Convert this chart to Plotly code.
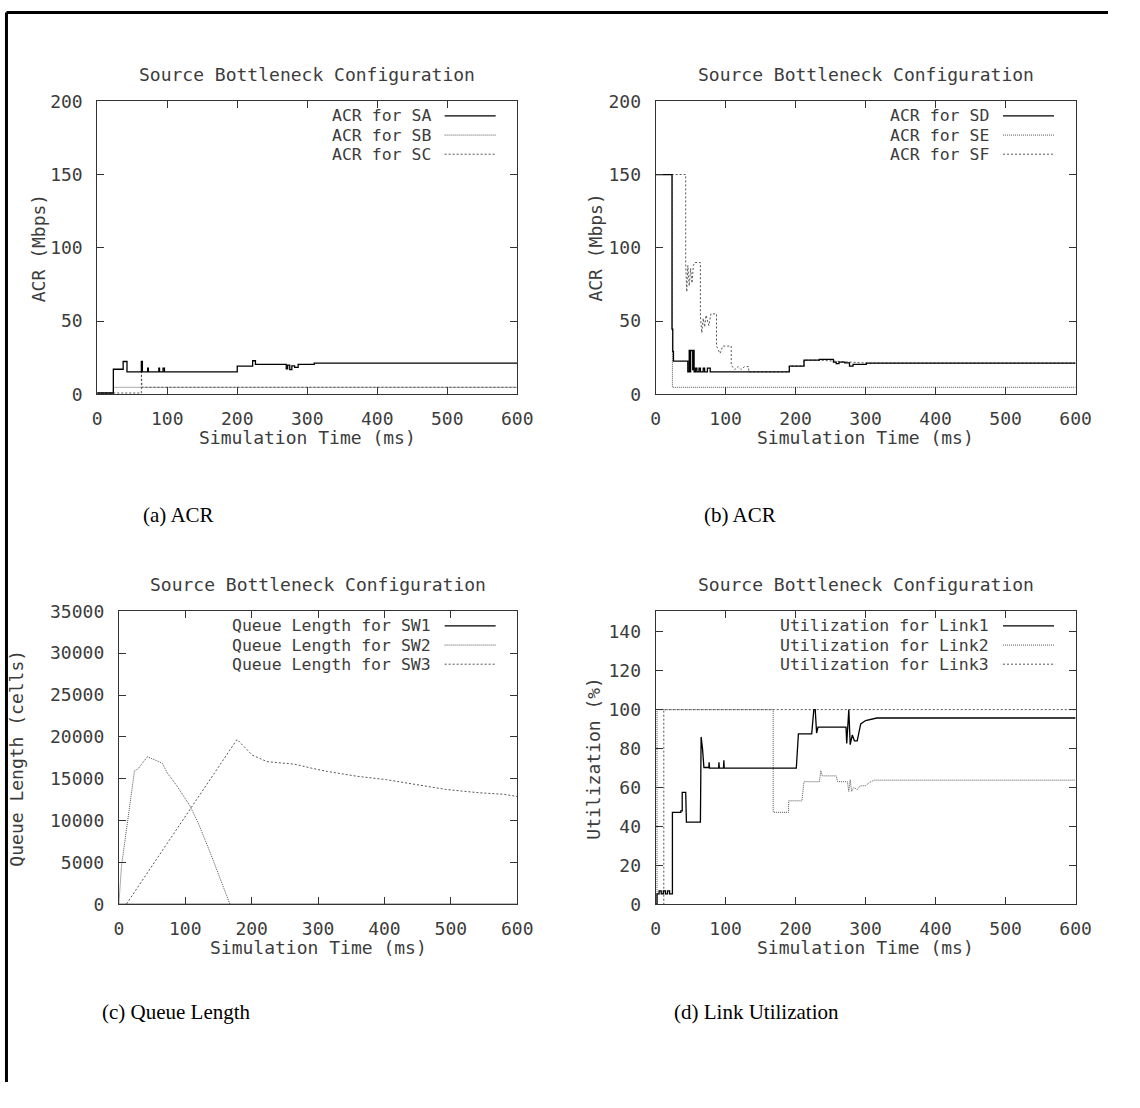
import plotly.graph_objects as go

# ---------------- data ----------------
# (a) ACR for sources SA, SB, SC  (time in ms, rate in Mbps)
sa_t = [0, 23, 37, 42.5, 63, 64.5, 72, 73, 88, 89, 94, 96, 200, 222, 226, 270, 272, 275, 278, 282, 287, 310, 600]
sa_v = [1, 17.2, 22.5, 15.4, 22.5, 15.4, 18, 15.4, 18, 15.4, 18, 15.4, 19.4, 23, 20.5, 17.5, 20, 17, 19.5, 18.5, 20.5, 21.4, 21.4]
sb_t = [0, 23, 600]
sb_v = [1, 4.9, 4.9]
sc_t = [0, 63, 63, 64, 600]
sc_v = [1, 1, 15.4, 4.9, 4.9]

# (b) ACR for sources SD, SE, SF
sd_t = [0, 23.4, 24.5, 25.5, 46, 48, 49, 50, 53, 54, 55, 57, 59, 62, 64, 68, 70, 74, 78,
        191, 212, 234, 254, 258, 262, 270, 277, 282, 301, 600]
sd_v = [150, 44.6, 29.4, 22.7, 15.4, 30, 15.4, 30, 17, 30, 15.4, 18, 15.4, 18, 15.4, 18, 15.4, 18, 15.4,
        19.4, 23.4, 23.9, 22, 21, 22, 21.6, 19.4, 20.5, 21.4, 21.4]
se_t = [0, 24, 600]
se_v = [150, 4.9, 4.9]
sf_t = [0, 43, 43, 44.5, 46, 48, 50, 52, 54, 56, 64, 64, 66, 68, 70, 72, 76, 79, 87, 87, 92, 96,
        108, 108, 113, 118, 122, 127, 133, 133, 191, 191, 212, 212, 234, 301, 600]
sf_v = [150, 150, 88, 70, 88, 74, 86, 76, 88, 90, 90, 53, 42, 52, 46, 54, 47, 55, 55, 33, 28, 33,
        33, 20, 17, 19, 17, 19, 19, 15.4, 15.4, 19.4, 19.4, 23.4, 23.4, 21.4, 21.4]

# (c) queue length per switch (cells)
sw1_t = [0, 600]
sw1_v = [0, 0]
sw2_t = [0, 4, 23.6, 28.5, 43, 65.5, 73, 87.7, 107, 120, 137, 167.5, 600]
sw2_v = [0, 4560, 15960, 16150, 17640, 16860, 15690, 14125, 11780, 9640, 6320, 0, 0]
sw3_t = [0, 11, 178, 201, 223, 265, 290, 314, 359, 403, 447, 492, 541, 580, 600]
sw3_v = [0, 0, 19700, 17830, 17050, 16740, 16270, 15880, 15300, 14900, 14320, 13735, 13345, 13150, 12880]

# (d) link utilization (%)
l1_t = [0, 2, 2, 5, 5, 8, 8, 11, 11, 14, 14, 17, 17, 20, 20, 24, 24, 36, 36, 38, 38, 43, 44, 64, 65, 67, 69,
        76, 76.5, 77, 90, 90.5, 91, 97, 97.5, 98, 201, 204, 223, 226, 228, 230, 232, 272, 273, 275, 276,
        278, 281, 284, 288, 293, 300, 316, 600]
l1_v = [0, 0, 5.4, 5.4, 7, 7, 5.4, 5.4, 7, 7, 5.4, 5.4, 7, 7, 5.4, 5.4, 47.3, 47.3, 48, 48, 57.5, 57.5, 42.3,
        42.3, 86, 80, 70.3, 70.3, 73, 70, 70, 73, 70, 70, 74, 70, 70, 87.6, 87.6, 100, 100, 88, 91, 91,
        82.6, 100, 100, 82, 87, 84, 84, 92.7, 94.4, 95.7, 95.7]
l2_t = [0, 2, 2, 168, 168, 190, 190, 209, 212, 234, 236, 238, 258, 260, 274, 276, 278, 280, 283, 288,
        292, 300, 305, 312, 600]
l2_v = [0, 0, 100, 100, 47.3, 47.3, 53.2, 53.2, 63, 63, 68.7, 66, 66, 63, 63, 58, 64, 58, 60, 59,
        60.8, 61, 62.5, 63.8, 63.8]
l3_t = [0, 11.7, 11.7, 600]
l3_v = [0, 0, 100, 100]

# ---------------- text ----------------
panel_title = "Source Bottleneck Configuration"
x_title = "Simulation Time (ms)"
y_titles = ["ACR (Mbps)", "ACR (Mbps)", "Queue Length (cells)", "Utilization (%)"]
captions = ["(a) ACR", "(b) ACR", "(c) Queue Length", "(d) Link Utilization"]
legend_a = ["ACR for SA", "ACR for SB", "ACR for SC"]
legend_b = ["ACR for SD", "ACR for SE", "ACR for SF"]
legend_c = ["Queue Length for SW1", "Queue Length for SW2", "Queue Length for SW3"]
legend_d = ["Utilization for Link1", "Utilization for Link2", "Utilization for Link3"]

# ---------------- layout helpers ----------------
# the page keeps its default 8px body margin, so the figure is laid out on the
# area inside it and positions below are given in window pixels
PAGE_W, PAGE_H = 1140, 1108
MARGIN = 8
W, H = PAGE_W - 2 * MARGIN, PAGE_H - 2 * MARGIN
MONO = "DejaVu Sans Mono"
GREY = "#3c3c3c"
FS = 18          # general text size
LEG_FS = 16.5    # legend text size
ROW = 19.5       # legend row pitch


def fx(x):
    return (x - MARGIN) / W


def fy(y):
    return 1 - (y - MARGIN) / H


# plot-area boxes in window pixels: left, right, top, bottom
boxes = [(102, 530, 100, 399), (671, 1099, 100, 399), (124, 530, 620, 919), (671, 1099, 620, 919)]
yranges = [[0, 200], [0, 200], [0, 35000], [0, 150.5]]
ydticks = [50, 50, 5000, 20]
caption_pos = [(185, 522), (757, 522), (183, 1029), (774, 1029)]

STYLES = [
    dict(color="#000000", width=1.3),
    dict(color="#555555", width=1, dash="1px,1px"),
    dict(color="#555555", width=1, dash="2px,2px"),
]

series = [
    [(sa_t, sa_v, "hv"), (sb_t, sb_v, "hv"), (sc_t, sc_v, "linear")],
    [(sd_t, sd_v, "hv"), (se_t, se_v, "hv"), (sf_t, sf_v, "linear")],
    [(sw1_t, sw1_v, "linear"), (sw2_t, sw2_v, "linear"), (sw3_t, sw3_v, "linear")],
    [(l1_t, l1_v, "linear"), (l2_t, l2_v, "linear"), (l3_t, l3_v, "linear")],
]
legends = [legend_a, legend_b, legend_c, legend_d]

fig = go.Figure()

# draw dotted series first, solid on top
for i, group in enumerate(series):
    suffix = "" if i == 0 else str(i + 1)
    for k in [1, 2, 0]:
        t, v, shape = group[k]
        fig.add_trace(go.Scatter(
            x=t, y=v, mode="lines", line=dict(shape=shape, **STYLES[k]),
            xaxis="x" + suffix, yaxis="y" + suffix,
            name=legends[i][k], showlegend=False, hoverinfo="skip",
        ))

layout = dict(
    width=W, height=H, margin=dict(l=0, r=0, t=0, b=0),
    paper_bgcolor="white", plot_bgcolor="white",
    font=dict(family=MONO, size=FS, color=GREY),
    showlegend=False,
)

annotations = []
shapes = []

for i, (l, r, t, b) in enumerate(boxes):
    suffix = "" if i == 0 else str(i + 1)
    axis_common = dict(
        showline=True, linecolor="#333333", linewidth=1, mirror="allticks",
        ticks="inside", ticklen=7, tickcolor="#333333", tickwidth=1,
        showgrid=False, zeroline=False, fixedrange=True,
        tickfont=dict(family=MONO, size=FS, color=GREY),
    )
    layout["xaxis" + suffix] = dict(
        domain=[fx(l), fx(r)], range=[0, 600], tick0=0, dtick=100,
        anchor="y" + suffix, ticklabelstandoff=8, **axis_common,
    )
    layout["yaxis" + suffix] = dict(
        domain=[fy(b), fy(t)], range=yranges[i], tick0=0, dtick=ydticks[i],
        anchor="x" + suffix, ticklabelstandoff=10, tickformat="d", **axis_common,
    )
    cx = (l + r) / 2
    # panel title
    annotations.append(dict(text=panel_title, x=fx(cx), y=fy(t - 27), xref="paper", yref="paper",
                            showarrow=False, xanchor="center", yanchor="middle",
                            font=dict(family=MONO, size=FS, color=GREY)))
    # x axis title
    annotations.append(dict(text=x_title, x=fx(cx), y=fy(b + 44), xref="paper", yref="paper",
                            showarrow=False, xanchor="center", yanchor="middle",
                            font=dict(family=MONO, size=FS, color=GREY)))
    # caption under the panel
    cpx, cpy = caption_pos[i]
    annotations.append(dict(text=captions[i], x=fx(cpx), y=fy(cpy), xref="paper", yref="paper",
                            showarrow=False, xanchor="center", yanchor="middle",
                            font=dict(family="Liberation Serif", size=21, color="#000000")))
    # legend rows: right-aligned text, line sample at right
    for k in range(3):
        ry = t + 15 + ROW * k
        annotations.append(dict(text=legends[i][k], x=fx(r - 87), y=fy(ry), xref="paper", yref="paper",
                                showarrow=False, xanchor="right", yanchor="middle", borderpad=0,
                                font=dict(family=MONO, size=LEG_FS, color=GREY)))
        shapes.append(dict(type="line", xref="paper", yref="paper",
                           x0=fx(r - 74), x1=fx(r - 22), y0=fy(ry), y1=fy(ry),
                           line=STYLES[k]))

# y axis titles
ytitle_x = [42, 610, 20, 608]
for i, (l, r, t, b) in enumerate(boxes):
    annotations.append(dict(text=y_titles[i], x=fx(ytitle_x[i]), y=fy((t + b) / 2), xref="paper",
                            yref="paper", showarrow=False, xanchor="center", yanchor="middle",
                            textangle=-90, font=dict(family=MONO, size=FS, color=GREY)))

# page frame (left and top edges)
shapes.append(dict(type="line", xref="paper", yref="paper", x0=fx(9.5), x1=fx(9.5), y0=fy(9.5), y1=0,
                   line=dict(color="black", width=3)))
shapes.append(dict(type="line", xref="paper", yref="paper", x0=fx(9.5), x1=1, y0=fy(9.5), y1=fy(9.5),
                   line=dict(color="black", width=3)))

layout["annotations"] = annotations
layout["shapes"] = shapes
fig.update_layout(**layout)

fig.write_html("out.html")
